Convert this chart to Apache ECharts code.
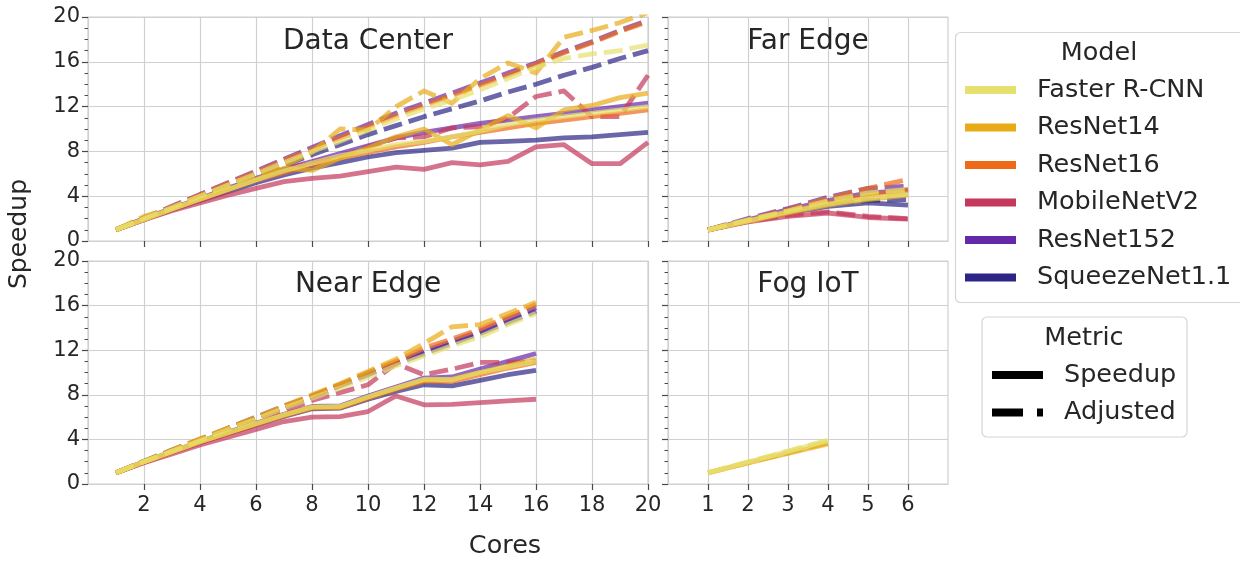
<!DOCTYPE html>
<html>
<head>
<meta charset="utf-8">
<script src="https://cdn.jsdelivr.net/npm/echarts@6/dist/echarts.min.js"></script>
<style>
html,body{margin:0;padding:0;background:#fff;}
#chart{width:1240px;height:561px;}
</style>
</head>
<body>
<div id="chart"></div>
<script>
// ---------- data ----------
const models = ['Faster R-CNN','ResNet14','ResNet16','MobileNetV2','ResNet152','SqueezeNet1.1'];
const modelColors = ['#e6e06e','#e8ab17','#ef6a16','#c5385b','#6528a9','#2c2585'];
const metrics = ['Speedup','Adjusted'];
const panels = ['Data Center','Far Edge','Near Edge','Fog IoT'];

const coresDC = [1,2,3,4,5,6,7,8,9,10,11,12,13,14,15,16,17,18,19,20];
const coresNE = [1,2,3,4,5,6,7,8,9,10,11,12,13,14,15,16];
const coresFE = [1,2,3,4,5,6];
const coresFog = [1,2,3,4];

const xTicksDC = [2,4,6,8,10,12,14,16,18,20];
const xTicksFE = [1,2,3,4,5,6];
const yTicks = [0,4,8,12,16,20];

// Data Center - Speedup
const dcSpeedupFaster  = [1,1.95,2.85,3.75,4.6,5.45,6.25,6.95,7.6,8.1,8.6,8.9,9.3,9.8,10.4,10.8,11.1,11.4,11.7,12.0];
const dcSpeedupR14     = [1,1.9,2.85,3.7,4.6,5.5,6.5,6.3,7.4,8.3,9.3,10.0,8.6,9.9,11.2,10.1,11.7,12.1,12.8,13.2];
const dcSpeedupR16     = [1,1.95,2.85,3.75,4.6,5.4,6.1,6.8,7.4,7.9,8.4,8.8,9.3,9.7,10.1,10.5,10.8,11.1,11.4,11.7];
const dcSpeedupMobile  = [1,1.9,2.7,3.4,4.1,4.7,5.3,5.6,5.8,6.2,6.6,6.4,7.0,6.8,7.1,8.4,8.6,6.9,6.9,8.8];
const dcSpeedupR152    = [1,2.0,2.9,3.8,4.7,5.6,6.4,7.1,7.8,8.5,9.2,9.7,10.1,10.5,10.8,11.1,11.4,11.7,12.0,12.3];
const dcSpeedupSqueeze = [1,1.9,2.8,3.6,4.4,5.2,5.9,6.5,7.0,7.5,7.9,8.1,8.3,8.8,8.9,9.0,9.2,9.3,9.5,9.7];
// Data Center - Adjusted
const dcAdjFaster  = [1,2.0,3.0,4.0,5.0,6.0,7.0,8.0,8.9,9.9,10.9,11.8,12.6,13.5,14.5,15.5,16.3,16.7,17.0,17.5];
const dcAdjR14     = [1,2.2,2.9,4.0,4.9,5.8,6.7,7.9,10.0,9.9,12.0,13.4,12.3,14.5,15.9,15.0,18.2,18.8,19.5,20.4];
const dcAdjR16     = [1,2.05,3.05,4.1,5.15,6.15,7.2,8.2,9.2,10.2,11.2,12.1,13.0,13.9,14.8,15.8,16.8,17.7,18.7,19.6];
const dcAdjMobile  = [1,1.95,2.85,3.75,4.6,5.5,6.4,7.0,7.5,8.4,9.2,9.3,10.1,10.2,11.0,12.9,13.4,11.1,11.1,14.8];
const dcAdjR152    = [1,2.05,3.1,4.15,5.2,6.25,7.3,8.35,9.4,10.4,11.4,12.3,13.2,14.1,15.0,15.9,16.9,17.8,18.8,19.7];
const dcAdjSqueeze = [1,2.0,2.95,3.9,4.85,5.8,6.75,7.7,8.6,9.5,10.3,11.1,11.8,12.5,13.3,14.0,14.8,15.5,16.3,17.0];

// Far Edge - Speedup
const feSpeedupFaster  = [1,1.8,2.6,3.3,3.8,4.2];
const feSpeedupR14     = [1,1.75,2.5,3.2,3.7,4.1];
const feSpeedupR16     = [1,1.8,2.6,3.4,4.1,4.6];
const feSpeedupMobile  = [1,1.7,2.2,2.5,2.1,1.95];
const feSpeedupR152    = [1,1.9,2.8,3.6,4.3,4.5];
const feSpeedupSqueeze = [1,1.8,2.5,3.1,3.4,3.2];
// Far Edge - Adjusted
const feAdjFaster  = [1,1.9,2.7,3.6,4.3,4.6];
const feAdjR14     = [1,1.85,2.65,3.5,4.1,4.4];
const feAdjR16     = [1,1.9,2.8,3.8,4.7,5.5];
const feAdjMobile  = [1,1.75,2.3,2.6,2.2,2.0];
const feAdjR152    = [1,2.0,2.9,3.9,4.7,4.9];
const feAdjSqueeze = [1,1.85,2.6,3.3,3.6,3.7];

// Near Edge - Speedup
const neSpeedupFaster  = [1,2.0,2.9,3.8,4.6,5.4,6.2,6.9,6.95,7.8,8.6,9.4,9.35,10.0,10.5,11.0];
const neSpeedupR14     = [1,2.0,2.9,3.8,4.6,5.4,6.2,6.9,6.9,7.8,8.6,9.3,9.4,10.0,10.6,11.2];
const neSpeedupR16     = [1,1.95,2.85,3.75,4.55,5.35,6.1,6.8,6.85,7.7,8.5,9.2,9.2,9.8,10.4,10.9];
const neSpeedupMobile  = [1,1.9,2.7,3.5,4.2,4.9,5.6,6.0,6.05,6.5,7.9,7.1,7.15,7.3,7.45,7.6];
const neSpeedupR152    = [1,2.0,2.9,3.8,4.65,5.45,6.25,6.95,7.0,7.9,8.7,9.5,9.6,10.3,11.0,11.7];
const neSpeedupSqueeze = [1,1.95,2.85,3.7,4.5,5.3,6.05,6.75,6.8,7.6,8.3,8.9,8.8,9.3,9.8,10.2];
// Near Edge - Adjusted
const neAdjFaster  = [1,2.0,2.95,3.9,4.9,5.8,6.8,7.7,8.6,9.6,10.6,11.5,12.4,13.2,14.3,15.3];
const neAdjR14     = [1,2.05,3.05,4.05,5.0,6.0,7.0,8.0,9.0,10.1,11.2,12.6,14.1,14.3,15.3,16.3];
const neAdjR16     = [1,2.0,3.0,4.0,5.0,5.9,6.9,7.9,8.9,10.0,11.0,12.2,13.0,13.9,15.0,16.1];
const neAdjMobile  = [1,1.95,2.9,3.7,4.6,5.4,6.5,7.5,8.2,8.9,10.8,9.8,10.3,10.9,10.9,11.0];
const neAdjR152    = [1,2.05,3.05,4.0,5.0,6.0,7.0,7.9,8.9,9.9,10.9,11.9,12.8,13.7,14.8,15.8];
const neAdjSqueeze = [1,2.0,3.0,3.9,4.9,5.9,6.8,7.8,8.8,9.8,10.8,11.7,12.6,13.5,14.5,15.5];

// Fog IoT (only two models)
const fogSpeedupFaster = [1,1.97,2.93,3.9];
const fogSpeedupR14    = [1,1.9,2.75,3.6];
const fogAdjFaster     = [1,1.98,2.95,3.92];
const fogAdjR14        = [1,1.92,2.8,3.7];

// ---------- build ----------
const panelData = [
  {cores: coresDC, speedup: [dcSpeedupFaster,dcSpeedupR14,dcSpeedupR16,dcSpeedupMobile,dcSpeedupR152,dcSpeedupSqueeze],
                   adjusted: [dcAdjFaster,dcAdjR14,dcAdjR16,dcAdjMobile,dcAdjR152,dcAdjSqueeze]},
  {cores: coresFE, speedup: [feSpeedupFaster,feSpeedupR14,feSpeedupR16,feSpeedupMobile,feSpeedupR152,feSpeedupSqueeze],
                   adjusted: [feAdjFaster,feAdjR14,feAdjR16,feAdjMobile,feAdjR152,feAdjSqueeze]},
  {cores: coresNE, speedup: [neSpeedupFaster,neSpeedupR14,neSpeedupR16,neSpeedupMobile,neSpeedupR152,neSpeedupSqueeze],
                   adjusted: [neAdjFaster,neAdjR14,neAdjR16,neAdjMobile,neAdjR152,neAdjSqueeze]},
  {cores: coresFog, speedup: [fogSpeedupFaster,fogSpeedupR14,null,null,null,null],
                    adjusted: [fogAdjFaster,fogAdjR14,null,null,null,null]}
];

const FONT = "'DejaVu Sans', 'Liberation Sans', sans-serif";
const TXT = '#262626';
const GRIDC = '#d0d0d0';
const TICKC = '#4a4a4a';

const gridsPos = [
  {left: 88,  top: 17,  width: 560, height: 224},
  {left: 668, top: 17,  width: 280, height: 224},
  {left: 88,  top: 261, width: 560, height: 223},
  {left: 668, top: 261, width: 280, height: 223}
];
const grids = gridsPos.map(g => Object.assign({show: true, borderColor: GRIDC, borderWidth: 1.2, backgroundColor: 'transparent', containLabel: false}, g));

const xAxes = gridsPos.map((g, i) => {
  const wide = (i === 0 || i === 2);
  const bottom = (i >= 2);
  return {
    type: 'value', gridIndex: i,
    min: 0, max: wide ? 20 : 7, interval: wide ? 2 : 1,
    axisLine: {show: true, onZero: false, lineStyle: {color: GRIDC, width: 1.2}},
    axisTick: {show: true, length: 6, lineStyle: {color: TICKC, width: 1.2},
               customValues: wide ? xTicksDC : xTicksFE},
    axisLabel: {show: bottom, fontSize: 21, color: TXT, fontFamily: FONT, margin: 11,
                customValues: wide ? xTicksDC : xTicksFE,
                formatter: v => ((wide ? xTicksDC : xTicksFE).indexOf(v) >= 0 ? String(v) : '')},
    splitLine: {show: true, lineStyle: {color: GRIDC, width: 1.2}}
  };
});

const yAxes = gridsPos.map((g, i) => {
  const left = (i === 0 || i === 2);
  return {
    type: 'value', gridIndex: i, min: 0, max: 20, interval: 4,
    axisLine: {show: true, lineStyle: {color: GRIDC, width: 1.2}},
    axisTick: {show: true, length: 6, lineStyle: {color: TICKC, width: 1.2}},
    minorTick: {show: true, splitNumber: 4, length: 3.5, lineStyle: {color: TICKC, width: 1}},
    axisLabel: {show: left, fontSize: 21, color: TXT, fontFamily: FONT, margin: 8,
                formatter: v => (yTicks.indexOf(v) >= 0 ? String(v) : '')},
    splitLine: {show: true, lineStyle: {color: GRIDC, width: 1.2}}
  };
});

const series = [];
const drawOrder = [5,4,3,2,1,0];
panelData.forEach((p, pi) => {
  drawOrder.forEach(mi => {
    [['speedup', 'solid'], ['adjusted', [19, 7]]].forEach(([key, dash]) => {
      const arr = p[key][mi];
      if (!arr) return;
      series.push({
        type: 'line', name: models[mi] + ' ' + key,
        xAxisIndex: pi, yAxisIndex: pi,
        data: p.cores.map((c, k) => [c, arr[k]]),
        symbol: 'none', smooth: false, clip: true,
        lineStyle: {color: modelColors[mi], width: 4.8, opacity: 0.7, type: dash, cap: 'butt', join: 'round'},
        emphasis: {disabled: true},
        silent: true
      });
    });
  });
});

// ---------- graphic: titles, axis names, legends ----------
const graphic = [];
const panelCenters = [[368, 42], [808, 42], [368, 285], [808, 285]];
panels.forEach((t, i) => {
  graphic.push({type: 'text', x: panelCenters[i][0], y: panelCenters[i][1], z: 100,
    style: {text: t, fill: TXT, font: '28px ' + FONT, textAlign: 'center', textVerticalAlign: 'middle'}});
});
graphic.push({type: 'text', x: 505, y: 546, style: {text: 'Cores', fill: TXT, font: '25.5px ' + FONT, textAlign: 'center', textVerticalAlign: 'middle'}});
graphic.push({type: 'text', x: 19, y: 234, rotation: Math.PI / 2,
  style: {text: 'Speedup', fill: TXT, font: '25px ' + FONT, textAlign: 'center', textVerticalAlign: 'middle'}});

const LFONT = '25.5px ' + FONT;
// Model legend
graphic.push({type: 'rect', shape: {x: 955.5, y: 32.5, width: 300, height: 270, r: 5},
  style: {fill: 'rgba(255,255,255,0.85)', stroke: '#d6d6d6', lineWidth: 1.2}, z: 90});
graphic.push({type: 'text', x: 1099, y: 53, z: 100, style: {text: 'Model', fill: TXT, font: LFONT, textAlign: 'center', textVerticalAlign: 'middle'}});
models.forEach((m, i) => {
  const y = 90 + i * 37.5;
  graphic.push({type: 'line', z: 100, shape: {x1: 965, y1: y, x2: 1016, y2: y},
    style: {stroke: modelColors[i], lineWidth: 8, lineCap: 'butt'}});
  graphic.push({type: 'text', x: 1037, y: y, z: 100, style: {text: m, fill: TXT, font: LFONT, textAlign: 'left', textVerticalAlign: 'middle'}});
});

// Metric legend
graphic.push({type: 'rect', shape: {x: 982, y: 317, width: 205, height: 120, r: 5},
  style: {fill: 'rgba(255,255,255,0.85)', stroke: '#d6d6d6', lineWidth: 1.2}, z: 90});
graphic.push({type: 'text', x: 1084, y: 338, z: 100, style: {text: 'Metric', fill: TXT, font: LFONT, textAlign: 'center', textVerticalAlign: 'middle'}});
[['Speedup', null], ['Adjusted', [31, 14]]].forEach(([lab, dash], i) => {
  const y = 375 + i * 37.5;
  graphic.push({type: 'line', z: 100, shape: {x1: 992, y1: y, x2: 1043, y2: y},
    style: {stroke: '#000', lineWidth: 8, lineCap: 'butt', lineDash: dash}});
  graphic.push({type: 'text', x: 1064, y: y, z: 100, style: {text: lab, fill: TXT, font: LFONT, textAlign: 'left', textVerticalAlign: 'middle'}});
});

const chart = echarts.init(document.getElementById('chart'), null, {renderer: 'canvas'});
chart.setOption({
  animation: false,
  backgroundColor: '#ffffff',
  textStyle: {fontFamily: FONT},
  grid: grids,
  xAxis: xAxes,
  yAxis: yAxes,
  series: series,
  graphic: graphic
});
</script>
</body>
</html>
